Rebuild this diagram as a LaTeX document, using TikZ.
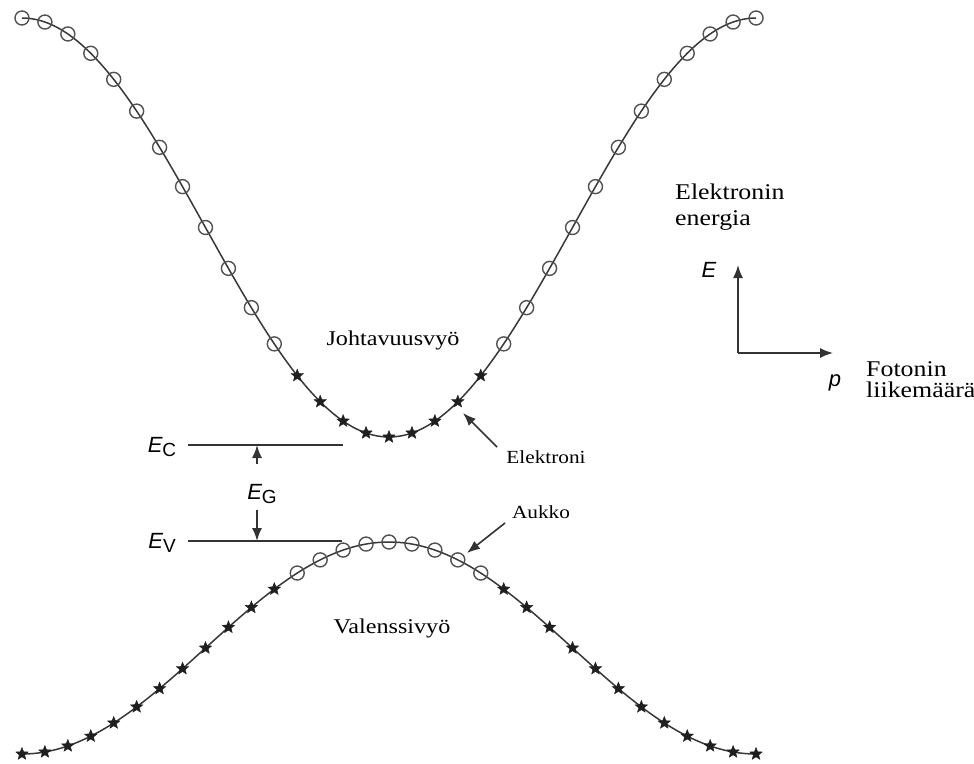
\documentclass[tikz,border=0pt]{standalone}
\usepackage{fontspec}
\setmainfont{Liberation Serif}[FakeStretch=1.15]
\newfontfamily\labfont{Liberation Sans}
\usetikzlibrary{shapes.geometric,arrows.meta}
\begin{document}
\begin{tikzpicture}[x=1pt,y=-1pt,
  curve/.style={draw=black!78,line width=1.5pt},
  hole/.style={circle,draw=black!68,line width=1.4pt,minimum size=14pt,inner sep=0pt},
  elec/.style={star,star points=5,star point ratio=2.3,fill=black!88,draw=black!88,line width=0.4pt,minimum size=13pt,inner sep=0pt},
  level/.style={draw=black!80,line width=2pt},
  arr/.style={draw=black!80,line width=1.6pt,-{Latex[length=13pt,width=10pt]}},
  smalltxt/.style={font=\fontsize{18.5}{21}\selectfont,inner sep=0pt},
  bandtxt/.style={font=\fontsize{21}{24}\selectfont,inner sep=0pt},
  axtxt/.style={font=\fontsize{22.5}{25}\selectfont,inner sep=0pt,anchor=west},
  sym/.style={font=\labfont\fontsize{22}{24}\selectfont,inner sep=0pt}
]
\useasboundingbox (0,0) rectangle (974,763);
\fill[white] (0,0) rectangle (974,763);
% bands
\draw[curve] plot[domain=-16:16,samples=161,smooth] ({389+22.94*\x},{437-209.5*(1-cos(11.25*\x))});
\draw[curve] plot[domain=-16:16,samples=161,smooth] ({389+22.94*\x},{542+106*(1-cos(11.25*\x))});
\foreach \k in {-16,...,16}{
  \pgfmathsetmacro\ux{389+22.94*\k}
  \pgfmathsetmacro\uy{437-209.5*(1-cos(11.25*\k))}
  \pgfmathsetmacro\ly{542+106*(1-cos(11.25*\k))}
  \pgfmathtruncatemacro\ak{abs(\k)}
  \ifnum\ak<5
    \node[elec] (u\k) at (\ux,\uy) {};
    \node[hole] (l\k) at (\ux,\ly) {};
  \else
    \node[hole] (u\k) at (\ux,\uy) {};
    \node[elec] (l\k) at (\ux,\ly) {};
  \fi
}
% levels
\coordinate (ec1) at (188,445); \coordinate (ec2) at (343,445);
\coordinate (ev1) at (188,541); \coordinate (ev2) at (342,541);
\draw[level] (ec1) -- (ec2);
\draw[level] (ev1) -- (ev2);
\node[sym] (EC) at (162,447) {\itshape E\raisebox{-0.22em}{\fontsize{19}{20}\selectfont\upshape C}};
\node[sym] (EV) at (162,543) {\itshape E\raisebox{-0.22em}{\fontsize{19}{20}\selectfont\upshape V}};
\node[sym] (EG) at (262,494) {\itshape E\raisebox{-0.22em}{\fontsize{19}{20}\selectfont\upshape G}};
\coordinate (ga) at (257,464); \coordinate (gb) at (257,510);
\draw[arr] (ga) -- (ga |- ec1);
\draw[arr] (gb) -- (gb |- ev1);
% band labels
\node[bandtxt] (cb) at (393,340) {Johtavuusvyö};
\node[bandtxt] (vb) at (392,628) {Valenssivyö};
% pointers
\node[smalltxt] (el) at (546,457) {Elektroni};
\node[smalltxt] (au) at (541,512) {Aukko};
\coordinate (ea) at (497,447); \coordinate (et) at (463,413);
\draw[arr] (ea) -- (et);
\coordinate (aa) at (505,523); \coordinate (at) at (467,553);
\draw[arr] (aa) -- (at);
% axes
\coordinate (O) at (738,353);
\coordinate (Ey) at (738,265);
\coordinate (Px) at (833,353);
\draw[arr] (O) -- (Ey);
\draw[arr] (O) -- (Px);
\node[sym] (Elab) at (709,270) {\itshape E};
\node[sym] (plab) at (835,383) {\itshape p};
\node[axtxt] (en1) at (675,192) {Elektronin};
\node[axtxt] (en2) at (675,220) {energia};
\node[axtxt] (fo1) at (866,369) {Fotonin};
\node[axtxt] (fo2) at (866,390) {liikemäärä};
\end{tikzpicture}
\end{document}
